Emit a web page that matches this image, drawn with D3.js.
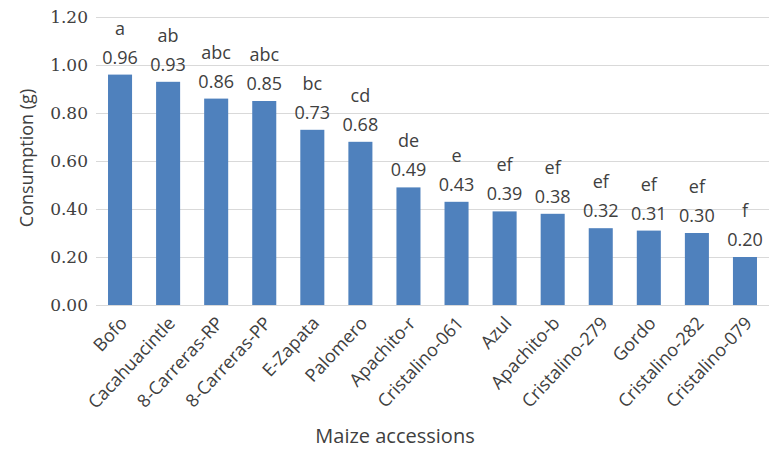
<!DOCTYPE html>
<html><head><meta charset="utf-8">
<script src="https://cdn.jsdelivr.net/npm/d3@7"></script>
<style>body{margin:0;background:#fff}svg{display:block}</style>
</head><body>
<script>
const categories = ["Bofo","Cacahuacintle","8-Carreras-RP","8-Carreras-PP","E-Zapata","Palomero","Apachito-r","Cristalino-061","Azul","Apachito-b","Cristalino-279","Gordo","Cristalino-282","Cristalino-079"];
const values = [0.96,0.93,0.86,0.85,0.73,0.68,0.49,0.43,0.39,0.38,0.32,0.31,0.30,0.20];
const letters = ["a","ab","abc","abc","bc","cd","de","e","ef","ef","ef","ef","ef","f"];
const yTicks = [0,0.2,0.4,0.6,0.8,1.0,1.2];

const W=769,H=453;
const svg=d3.select("body").append("svg").attr("width",W).attr("height",H);
const x=d3.scaleBand().domain(categories).range([96,769]).paddingInner(0.5).paddingOuter(0.25);
const y=d3.scaleLinear().domain([0,1.2]).range([305,17]);
const sans="'Open Sans', sans-serif";
const txt="#404040";

// gridlines
svg.append("g").selectAll("line").data(yTicks).join("line")
  .attr("x1",96).attr("x2",769).attr("y1",d=>y(d)).attr("y2",d=>y(d))
  .attr("stroke","#D9D9D9").attr("stroke-width",1).attr("shape-rendering","crispEdges");

// y axis labels
const yAxis=d3.axisLeft(y).tickValues(yTicks).tickFormat(d3.format(".2f")).tickSize(0).tickPadding(8);
const ya=svg.append("g").attr("transform","translate(96,0)").call(yAxis);
ya.select(".domain").remove();
ya.selectAll("text").attr("font-family","'DejaVu Serif', serif").attr("font-size",17).attr("fill",txt);

// bars
svg.append("g").selectAll("rect").data(values).join("rect")
  .attr("x",(d,i)=>x(categories[i])).attr("width",x.bandwidth())
  .attr("y",d=>y(d)).attr("height",d=>y(0)-y(d)).attr("fill","#4F81BD");

// labels
const lg=svg.append("g").attr("font-family",sans).attr("font-size",18).attr("fill",txt).attr("text-anchor","middle");
lg.selectAll("text.v").data(values).join("text").attr("class","v")
  .attr("x",(d,i)=>x(categories[i])+x.bandwidth()/2).attr("y",d=>y(d)-11).text(d=>d.toFixed(2));
lg.selectAll("text.l").data(letters).join("text").attr("class","l")
  .attr("x",(d,i)=>x(categories[i])+x.bandwidth()/2).attr("y",(d,i)=>y(values[i])-40).text(d=>d);

// x axis
const xAxis=d3.axisBottom(x).tickSize(0).tickPadding(0);
const xa=svg.append("g").attr("transform","translate(0,305)").call(xAxis);
xa.select(".domain").attr("stroke","#D9D9D9");
xa.selectAll("text").attr("font-family",sans).attr("font-size",18).attr("fill",txt)
  .attr("text-anchor","end").attr("dy",0)
  .attr("transform","translate(8,19) rotate(-47)");

// axis titles
svg.append("text").attr("x",395).attr("y",443).attr("text-anchor","middle")
  .attr("font-family",sans).attr("font-size",20).attr("fill",txt).text("Maize accessions");
svg.append("text").attr("transform","translate(33,158) rotate(-90)").attr("text-anchor","middle")
  .attr("font-family",sans).attr("font-size",18).attr("fill",txt).text("Consumption (g)");
</script>
</body></html>
